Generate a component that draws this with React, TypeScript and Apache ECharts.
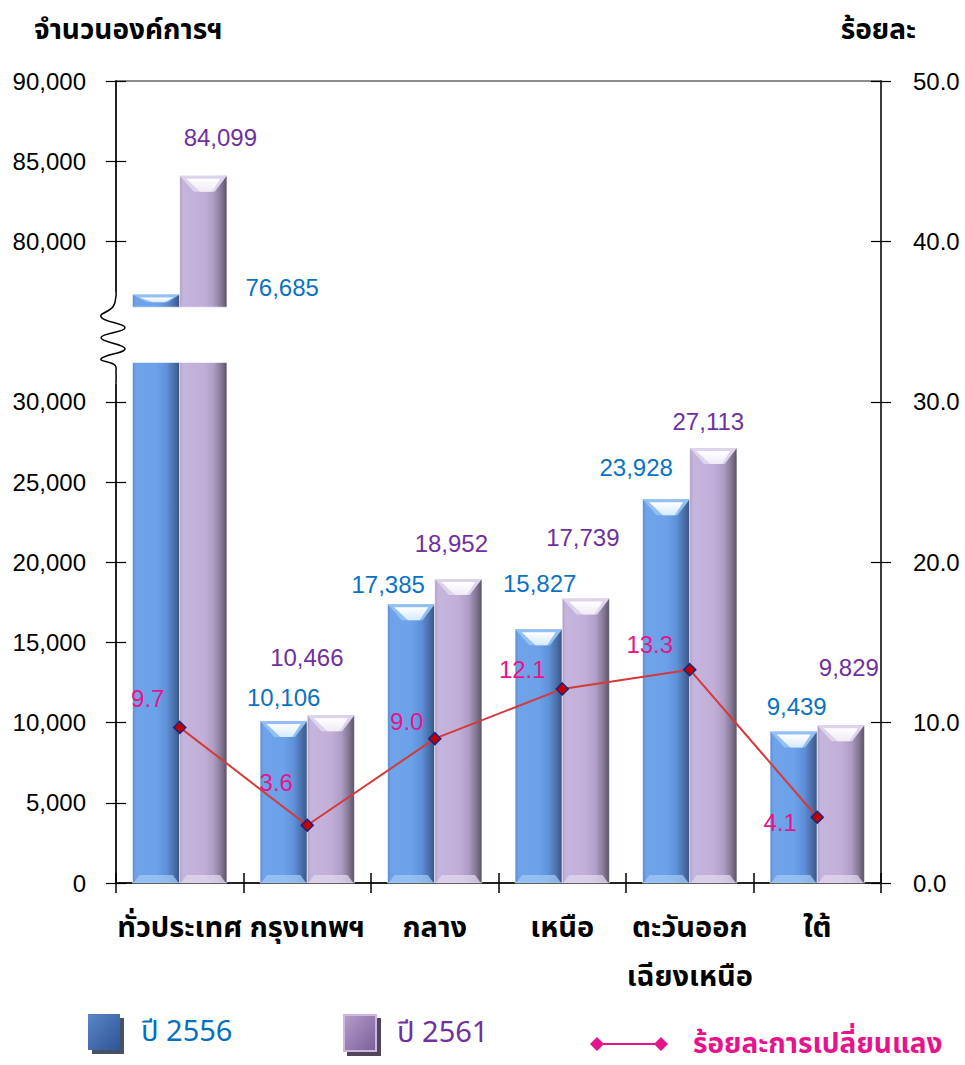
import React, { useEffect, useRef } from "react";
import * as echarts from "echarts";

const categories = ["ทั่วประเทศ", "กรุงเทพฯ", "กลาง", "เหนือ", "ตะวันออก\nเฉียงเหนือ", "ใต้"];
const orgs2556 = [76685, 10106, 17385, 15827, 23928, 9439];
const orgs2561 = [84099, 10466, 18952, 17739, 27113, 9829];
const pctChange = [9.7, 3.6, 9.0, 12.1, 13.3, 4.1];
const seriesNames = ["ปี 2556", "ปี 2561", "ร้อยละการเปลี่ยนแลง"];
const leftAxisTitle = "จำนวนองค์การฯ";
const rightAxisTitle = "ร้อยละ";

// axis break: real values between BREAK_FROM and BREAK_TO are skipped
const BREAK_FROM = 30000;
const BREAK_TO = 70000;
const SHIFT = BREAK_TO - BREAK_FROM;
const tx = (v: number) => (v > BREAK_TO ? v - SHIFT : v);
// visual gap band on the bars (axis-space values)
const GAP_LO = 32450;
const GAP_HI = 35900;

// label offsets (style only)
const blueLabelOffsets = [[126, -7], [0, -23], [-23, -20], [1, -46], [-30, -32], [3, -25]];
const purpleLabelOffsets = [[17, -38], [-24, -58], [-7, -36], [-3, -61], [-5, -27], [8, -58]];
const pctLabelOffsets = [[-32, -29], [-31, -43], [-28, -17], [-40, -19], [-40, -25], [-37, 5]];

const FONT = "'Liberation Sans', Arial, sans-serif";
const THAI_FONT = "'Noto Sans Thai', 'Noto Sans Thai UI', 'Leelawadee UI', 'Tahoma', 'Liberation Sans', sans-serif";

const fmt = (n: number) => n.toLocaleString("en-US");

type Pal = { body: any; topBevel: string; chevron: any; bottom: string; label: string };

const bluePal: Pal = {
  body: new echarts.graphic.LinearGradient(0, 0, 1, 0, [
    { offset: 0, color: "#5a89cf" },
    { offset: 0.07, color: "#6fa3e9" },
    { offset: 0.5, color: "#6ca2ea" },
    { offset: 0.72, color: "#5f90d8" },
    { offset: 0.88, color: "#4a70aa" },
    { offset: 1, color: "#3a5283" },
  ]),
  topBevel: "#93c0f3",
  chevron: new echarts.graphic.LinearGradient(0, 0, 0, 1, [
    { offset: 0, color: "#ffffff" },
    { offset: 1, color: "#d6eaff" },
  ]),
  bottom: "rgba(160,200,245,0.75)",
  label: "#0a72c4",
};

const purplePal: Pal = {
  body: new echarts.graphic.LinearGradient(0, 0, 1, 0, [
    { offset: 0, color: "#ad9dc2" },
    { offset: 0.07, color: "#c5b4db" },
    { offset: 0.5, color: "#c1afd7" },
    { offset: 0.72, color: "#ae9dc4" },
    { offset: 0.88, color: "#847795" },
    { offset: 1, color: "#5a5164" },
  ]),
  topBevel: "#ddd3ea",
  chevron: new echarts.graphic.LinearGradient(0, 0, 0, 1, [
    { offset: 0, color: "#ffffff" },
    { offset: 1, color: "#f0eaf7" },
  ]),
  bottom: "rgba(225,215,238,0.75)",
  label: "#7030a0",
};

function makeBarRender(k: number, raw: number[], pal: Pal, offsets: number[][]) {
  return (params: any, api: any) => {
    const i = api.value(0);
    const v = api.value(1);
    const base = api.coord([i, 0]);
    const top = api.coord([i, v]);
    const band = api.size([1, 0])[0];
    const w = band * 0.37;
    const x0 = base[0] - w + k * w;
    const yb = base[1];
    const yt = top[1];
    const children: any[] = [];
    const segs: [number, number, boolean, boolean][] =
      v > GAP_HI
        ? [
            [yb, api.coord([i, GAP_LO])[1], false, true],
            [api.coord([i, GAP_HI])[1], yt, true, false],
          ]
        : [[yb, yt, true, true]];
    for (const [y1, y2, hasTop, hasBottom] of segs) {
      const segH = y1 - y2;
      children.push({
        type: "rect",
        shape: { x: x0, y: y2, width: w, height: segH },
        style: { fill: pal.body, stroke: "rgba(255,255,255,0.55)", lineWidth: 1 },
      });
      if (hasBottom) {
        children.push({
          type: "polygon",
          shape: { points: [[x0 + 1, y1], [x0 + w - 1, y1], [x0 + w - 7, y1 - 8], [x0 + 7, y1 - 8]] },
          style: { fill: pal.bottom },
        });
      }
      if (hasTop) {
        const d = Math.min(16, segH * 0.6);
        children.push({
          type: "polygon",
          shape: { points: [[x0, y2], [x0 + w, y2], [x0 + w * 0.74, y2 + d], [x0 + w * 0.3, y2 + d]] },
          style: { fill: pal.topBevel },
        });
        children.push({
          type: "polygon",
          shape: {
            points: [
              [x0 + w * 0.14, y2 + 3],
              [x0 + w * 0.86, y2 + 3],
              [x0 + w * 0.68, y2 + d],
              [x0 + w * 0.43, y2 + d],
            ],
          },
          style: { fill: pal.chevron },
        });
      }
    }
    const off = offsets[i];
    children.push({
      type: "text",
      x: x0 + w / 2 + off[0],
      y: yt + off[1],
      z2: 50,
      style: {
        text: fmt(raw[i]),
        fill: pal.label,
        fontSize: 24,
        fontFamily: FONT,
        align: "center",
        verticalAlign: "middle",
      },
    });
    return { type: "group", children };
  };
}

function breakRender(params: any, api: any) {
  const cs = params.coordSys;
  const ax = cs.x;
  const yHi = api.coord([0, GAP_HI])[1] - 15;
  const yLo = api.coord([0, GAP_LO])[1] + 21;
  const h = yLo - yHi;
  const pts = [
    [ax, yHi],
    [ax, yHi + 4],
    [ax - 3, yHi + h * 0.16],
    [ax - 15, yHi + h * 0.27],
    [ax + 9, yHi + h * 0.39],
    [ax - 15, yHi + h * 0.5],
    [ax + 9, yHi + h * 0.62],
    [ax - 15, yHi + h * 0.73],
    [ax - 1, yHi + h * 0.8],
    [ax, yHi + h * 0.88],
    [ax, yLo],
  ];
  return {
    type: "group",
    children: [
      {
        type: "rect",
        shape: { x: ax - 14, y: yHi, width: 28, height: h },
        style: { fill: "#ffffff" },
      },
      {
        type: "polyline",
        shape: { points: pts, smooth: 0.45 },
        style: { stroke: "#000", lineWidth: 1.5, fill: null },
      },
    ],
  };
}

export default function App() {
  const ref = useRef<HTMLDivElement>(null);
  useEffect(() => {
    if (!ref.current) return;
    const chart = echarts.init(ref.current, undefined, { renderer: "svg" });
    const leftAxisCommon = {
      type: "value",
      min: 0,
      max: 50000,
      interval: 5000,
      position: "left",
      splitLine: { show: false },
    };
    const rightAxisCommon = {
      type: "value",
      min: 0,
      max: 50,
      interval: 10,
      position: "right",
      splitLine: { show: false },
    };
    const option: any = {
      animation: false,
      backgroundColor: "#ffffff",
      title: [
        {
          text: leftAxisTitle,
          left: 29,
          top: 11,
          textStyle: { fontSize: 28, fontWeight: "bold", color: "#000", fontFamily: THAI_FONT },
        },
        {
          text: rightAxisTitle,
          right: 44,
          top: 11,
          textStyle: { fontSize: 28, fontWeight: "bold", color: "#000", fontFamily: THAI_FONT },
        },
      ],
      grid: {
        left: 116,
        right: 84,
        top: 81,
        bottom: 182,
        show: true,
        borderColor: "#8c8c8c",
        borderWidth: 2,
        backgroundColor: "transparent",
      },
      legend: [
        {
          left: 88,
          top: 1014,
          padding: 0,
          selectedMode: false,
          icon: "rect",
          itemWidth: 32,
          itemHeight: 36,
          data: [
            {
              name: seriesNames[0],
              itemStyle: {
                color: new echarts.graphic.LinearGradient(0, 0, 1, 1, [
                  { offset: 0, color: "#5a85c6" },
                  { offset: 1, color: "#2f5596" },
                ]),
                shadowColor: "rgba(40,50,80,0.85)",
                shadowOffsetX: 4,
                shadowOffsetY: 4,
                shadowBlur: 0,
              },
            },
          ],
          textStyle: { fontSize: 29, color: "#0070c0", fontFamily: THAI_FONT, padding: [16, 0, 0, 16] },
        },
        {
          left: 343,
          top: 1014,
          padding: 0,
          selectedMode: false,
          icon: "rect",
          itemWidth: 32,
          itemHeight: 36,
          data: [
            {
              name: seriesNames[1],
              itemStyle: {
                color: new echarts.graphic.LinearGradient(0, 0, 1, 1, [
                  { offset: 0, color: "#b59dcc" },
                  { offset: 1, color: "#7a5f99" },
                ]),
                borderColor: "#cbb8df",
                borderWidth: 2,
                shadowColor: "rgba(50,40,60,0.85)",
                shadowOffsetX: 4,
                shadowOffsetY: 4,
                shadowBlur: 0,
              },
            },
          ],
          textStyle: { fontSize: 29, color: "#7030a0", fontFamily: THAI_FONT, padding: [16, 0, 0, 16] },
        },
        {
          left: 590,
          top: 1030,
          padding: 0,
          selectedMode: false,
          itemWidth: 78,
          itemHeight: 14,
          data: [
            {
              name: seriesNames[2],
              icon: "path://M0,7L7,0L14,7L7,14Z M64,7L71,0L78,7L71,14Z M7,6H71V8H7Z",
              itemStyle: { color: "#e6148c", borderWidth: 0 },
            },
          ],
          textStyle: {
            fontSize: 28,
            fontWeight: "bold",
            color: "#e6148c",
            fontFamily: THAI_FONT,
            padding: [0, 0, 0, 20],
          },
        },
      ],
      xAxis: [
        {
          type: "category",
          data: categories,
          position: "bottom",
          axisLine: { lineStyle: { color: "#000", width: 1.5 } },
          axisTick: { show: true, length: 10, lineStyle: { color: "#000", width: 1.5 } },
          axisLabel: {
            color: "#000",
            fontSize: 29,
            fontWeight: "bold",
            fontFamily: THAI_FONT,
            margin: 20,
            lineHeight: 49,
            interval: 0,
          },
        },
        {
          type: "category",
          data: categories,
          position: "bottom",
          axisLine: { show: false },
          axisTick: { show: true, inside: true, length: 10, lineStyle: { color: "#000", width: 1.5 } },
          axisLabel: { show: false },
        },
      ],
      yAxis: [
        {
          ...leftAxisCommon,
          axisLine: { show: true, lineStyle: { color: "#000", width: 1.5 } },
          axisTick: { show: true, length: 10, lineStyle: { color: "#000", width: 1.2 } },
          axisLabel: {
            color: "#000",
            fontSize: 24,
            fontFamily: FONT,
            margin: 30,
            formatter: (v: number) => {
              if (v > BREAK_FROM && v < BREAK_FROM + 10000) return "";
              return fmt(v > BREAK_FROM ? v + SHIFT : v);
            },
          },
        },
        {
          ...rightAxisCommon,
          axisLine: { show: true, lineStyle: { color: "#222", width: 1.5 } },
          axisTick: { show: true, length: 10, lineStyle: { color: "#000", width: 1.2 } },
          axisLabel: {
            color: "#000",
            fontSize: 24,
            fontFamily: FONT,
            margin: 32,
            formatter: (v: number) => v.toFixed(1),
          },
        },
        {
          ...leftAxisCommon,
          axisLine: { show: false },
          axisTick: { show: true, inside: true, length: 10, lineStyle: { color: "#000", width: 1.2 } },
          axisLabel: { show: false },
        },
        {
          ...rightAxisCommon,
          axisLine: { show: false },
          axisTick: { show: true, inside: true, length: 10, lineStyle: { color: "#000", width: 1.2 } },
          axisLabel: { show: false },
        },
      ],
      series: [
        {
          name: seriesNames[0],
          type: "custom",
          xAxisIndex: 0,
          yAxisIndex: 0,
          encode: { x: 0, y: 1 },
          itemStyle: { color: "#4a74b3" },
          data: orgs2556.map((v, i) => [i, tx(v)]),
          renderItem: makeBarRender(0, orgs2556, bluePal, blueLabelOffsets),
          z: 2,
        },
        {
          name: seriesNames[1],
          type: "custom",
          xAxisIndex: 0,
          yAxisIndex: 0,
          encode: { x: 0, y: 1 },
          itemStyle: { color: "#9a82b5" },
          data: orgs2561.map((v, i) => [i, tx(v)]),
          renderItem: makeBarRender(1, orgs2561, purplePal, purpleLabelOffsets),
          z: 2,
        },
        {
          name: seriesNames[2],
          type: "line",
          xAxisIndex: 0,
          yAxisIndex: 1,
          data: pctChange.map((v, i) => ({
            value: v,
            label: { offset: pctLabelOffsets[i] },
          })),
          lineStyle: { color: "#d43a3a", width: 2 },
          symbol: "diamond",
          symbolSize: 12,
          itemStyle: { color: "#c00000", borderColor: "#1c237a", borderWidth: 1.5 },
          label: {
            show: true,
            position: "inside",
            color: "#e6148c",
            fontSize: 24,
            fontFamily: FONT,
            formatter: (p: any) => Number(p.value).toFixed(1),
          },
          z: 5,
        },
        {
          name: "break",
          type: "custom",
          xAxisIndex: 0,
          yAxisIndex: 0,
          data: [[0, 0]],
          renderItem: breakRender,
          silent: true,
          z: 10,
        },
      ],
    };
    chart.setOption(option);
    return () => chart.dispose();
  }, []);
  return (
    <div
      ref={ref}
      style={{ position: "fixed", left: 0, top: 0, width: 965, height: 1065, background: "#fff" }}
    />
  );
}
